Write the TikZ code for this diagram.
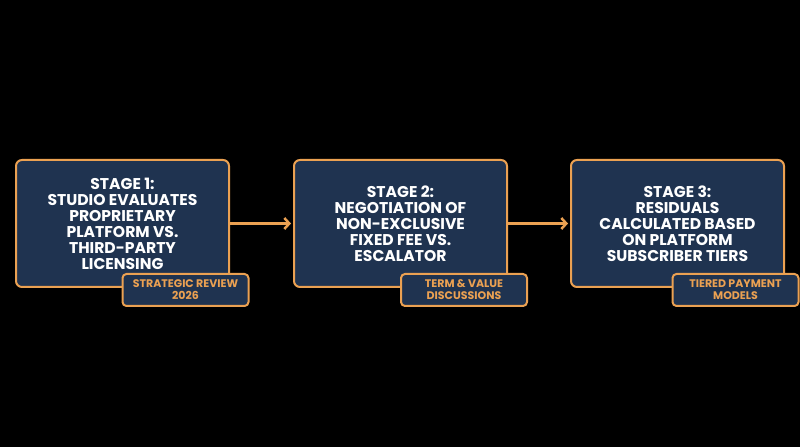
\documentclass[tikz,border=0pt]{standalone}
\usepackage{fontspec}
\setmainfont{Poppins}
\usetikzlibrary{positioning,arrows.meta}
\definecolor{navy}{HTML}{1F3350}
\definecolor{amber}{HTML}{EBA152}

\begin{document}
\begin{tikzpicture}[x=1pt, y=1pt,
stagenode/.style={rectangle, rounded corners=6pt, draw=amber, fill=navy, line width=2pt, minimum width=213pt, minimum height=127pt, text=white, align=center, font=\bfseries\fontsize{15.6}{16}\selectfont},
tagnode/.style={rectangle, rounded corners=4pt, draw=amber, fill=navy, line width=2pt, minimum width=126pt, minimum height=32pt, text=amber, align=center, font=\bfseries\fontsize{11}{12}\selectfont},
flow/.style={draw=amber, line width=2.5pt, -{Straight Barb[length=5pt, width=11pt]}},
]
\fill[black] (0,0) rectangle (800,447);
\useasboundingbox (0,0) rectangle (800,447);
%Nodes
\node[stagenode]      (S1)     at (122.5,223.5)     {STAGE 1:\\STUDIO EVALUATES\\PROPRIETARY\\PLATFORM VS.\\THIRD-PARTY\\LICENSING};
\node[stagenode]      (S2)     at (400.5,223.5)     {STAGE 2:\\NEGOTIATION OF\\NON-EXCLUSIVE\\FIXED FEE VS.\\ESCALATOR};
\node[stagenode]      (S3)     at (677.5,223.5)     {STAGE 3:\\RESIDUALS\\CALCULATED BASED\\ON PLATFORM\\SUBSCRIBER TIERS};
\node[tagnode]        (T1)     at (185.5,157)       {STRATEGIC REVIEW\\2026};
\node[tagnode]        (T2)     at (464,157)         {TERM \& VALUE\\DISCUSSIONS};
\node[tagnode]        (T3)     at (735.5,157)       {TIERED PAYMENT\\MODELS};

%Lines
\draw[flow] (S1.east) -- ([xshift=-2pt]S2.west);
\draw[flow] (S2.east) -- ([xshift=-2pt]S3.west);
\end{tikzpicture}
\end{document}
